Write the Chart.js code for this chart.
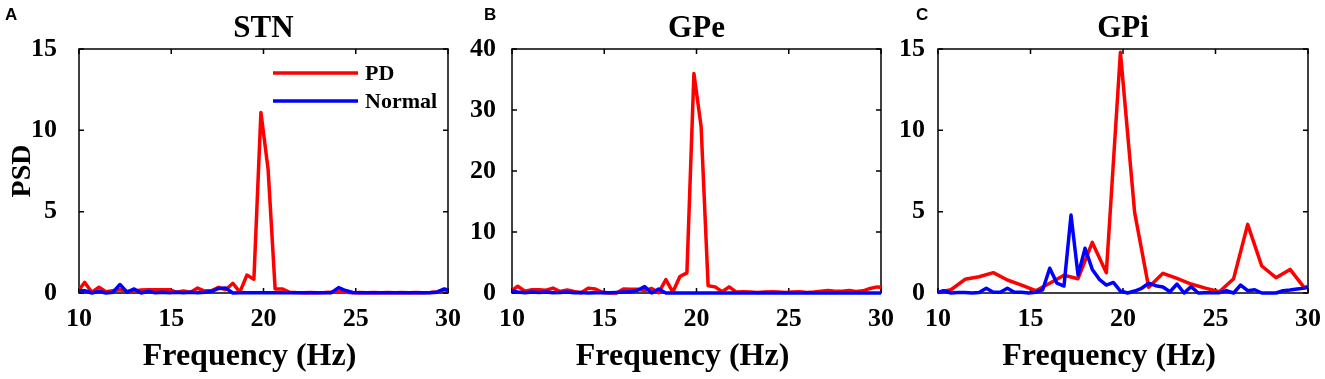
<!DOCTYPE html>
<html>
<head>
<meta charset="utf-8">
<script src="https://cdn.jsdelivr.net/npm/chart.js@4/dist/chart.umd.min.js"></script>
<style>
  html, body { margin: 0; padding: 0; background: #fff; }
  #wrap { position: relative; width: 1325px; height: 379px; }
  #wrap canvas { position: absolute; left: 0; top: 0; }
</style>
</head>
<body>
<div id="wrap">
  <canvas id="stn" width="1325" height="379"></canvas>
  <canvas id="gpe" width="1325" height="379"></canvas>
  <canvas id="gpi" width="1325" height="379"></canvas>
</div>
<script>
// frequency bins (Hz), ~0.38 Hz resolution
const freq = [9.93, 10.31, 10.70, 11.08, 11.46, 11.84, 12.22, 12.61, 12.99, 13.37,
  13.75, 14.13, 14.52, 14.90, 15.28, 15.66, 16.04, 16.43, 16.81, 17.19,
  17.57, 17.95, 18.34, 18.72, 19.10, 19.48, 19.86, 20.25, 20.63, 21.01,
  21.39, 21.77, 22.16, 22.54, 22.92, 23.30, 23.68, 24.07, 24.45, 24.83,
  25.21, 25.59, 25.98, 26.36, 26.74, 27.12, 27.50, 27.89, 28.27, 28.65,
  29.03, 29.41, 29.80, 30.18];
// GPi PD is sampled on every second bin
const freqCoarse = [9.93, 10.70, 11.46, 12.22, 12.99, 13.75, 14.52, 15.28, 16.04, 16.81,
  17.57, 18.34, 19.10, 19.86, 20.63, 21.39, 22.16, 22.92, 23.68, 24.45,
  25.21, 25.98, 26.74, 27.50, 28.27, 29.03, 29.80, 30.56];

const stnPD = [0.1, 0.65, 0.05, 0.35, 0.08, 0.14, 0.2, 0.1, 0.12, 0.18,
  0.2, 0.2, 0.2, 0.2, 0.05, 0.12, 0.05, 0.3, 0.12, 0.15,
  0.35, 0.2, 0.6, 0.05, 1.1, 0.85, 11.1, 7.6, 0.25, 0.25,
  0.05, 0.03, 0.02, 0.03, 0.02, 0.03, 0.05, 0.08, 0.05, 0.02,
  0.03, 0.02, 0.03, 0.02, 0.03, 0.02, 0.03, 0.02, 0.03, 0.02,
  0.03, 0.08, 0.2, 0.1];
const stnNormal = [0.14, 0.14, 0.0, 0.1, 0.0, 0.05, 0.52, 0.05, 0.25, 0.0,
  0.1, 0.02, 0.05, 0.02, 0.05, 0.02, 0.05, 0.02, 0.05, 0.1,
  0.28, 0.3, 0.0, 0.01, 0.02, 0.01, 0.02, 0.01, 0.02, 0.01,
  0.02, 0.01, 0.02, 0.01, 0.02, 0.01, 0.02, 0.33, 0.15, 0.03,
  0.02, 0.01, 0.02, 0.01, 0.02, 0.01, 0.02, 0.01, 0.02, 0.01,
  0.02, 0.05, 0.25, 0.1];

const gpePD = [0.3, 1.1, 0.3, 0.55, 0.55, 0.45, 0.8, 0.25, 0.5, 0.25,
  0.05, 0.8, 0.65, 0.1, 0.0, 0.0, 0.65, 0.6, 0.6, 0.4,
  0.75, 0.05, 2.2, 0.15, 2.7, 3.3, 36.0, 27.3, 1.2, 1.0,
  0.2, 1.0, 0.15, 0.2, 0.15, 0.1, 0.15, 0.2, 0.15, 0.1,
  0.15, 0.2, 0.1, 0.15, 0.3, 0.4, 0.3, 0.3, 0.4, 0.25,
  0.35, 0.75, 1.0, 0.9];
const gpeNormal = [0.4, 0.15, 0.05, 0.15, 0.1, 0.15, 0.05, 0.1, 0.15, 0.05,
  0.1, 0.0, 0.05, 0.1, 0.05, 0.1, 0.15, 0.2, 0.45, 1.05,
  0.0, 0.65, 0.0, 0.02, 0.02, 0.02, 0.02, 0.02, 0.02, 0.02,
  0.02, 0.02, 0.02, 0.02, 0.02, 0.02, 0.02, 0.02, 0.02, 0.02,
  0.02, 0.02, 0.02, 0.02, 0.02, 0.02, 0.02, 0.02, 0.02, 0.02,
  0.02, 0.02, 0.02, 0.02];

const gpiPD = [0.02, 0.2, 0.84, 1.0, 1.25, 0.8, 0.49, 0.14, 0.6, 1.09,
  0.88, 3.11, 1.25, 14.8, 4.94, 0.35, 1.21, 0.9, 0.55, 0.3,
  0.08, 0.88, 4.22, 1.66, 0.94, 1.45, 0.33, 0.7];
const gpiNormal = [0.02, 0.14, 0.0, 0.03, 0.03, 0.0, 0.03, 0.29, 0.05, 0.05,
  0.29, 0.05, 0.05, 0.0, 0.05, 0.2, 1.52, 0.6, 0.43, 4.79,
  1.1, 2.75, 1.45, 0.84, 0.49, 0.65, 0.12, 0.0, 0.12, 0.29,
  0.6, 0.45, 0.37, 0.08, 0.55, 0.0, 0.39, 0.0, 0.02, 0.02,
  0.02, 0.14, 0.0, 0.49, 0.14, 0.2, 0.0, 0.0, 0.0, 0.14,
  0.18, 0.25, 0.3, 0.38];

const xTicks = [10, 15, 20, 25, 30];
const seriesNames = ['PD', 'Normal'];
const seriesColors = ['#ff0000', '#0000ff'];
const xLabel = 'Frequency (Hz)';

const SERIF = '"Liberation Serif", "Times New Roman", serif';

function pts(xs, ys) {
  return xs.map((x, i) => ({ x: x, y: ys[i] }));
}

// box with inward ticks, panel letter, title, x label, in-axes legend
const framePlugin = {
  id: 'frame',
  beforeDatasetsDraw(chart, args, o) {
    const { ctx, chartArea: a, scales } = chart;
    ctx.save();
    ctx.strokeStyle = '#000';
    ctx.lineWidth = 1.5;
    ctx.strokeRect(a.left, a.top, a.width, a.height);
    ctx.beginPath();
    scales.x.ticks.forEach(t => {
      const px = scales.x.getPixelForValue(t.value);
      ctx.moveTo(px, a.bottom); ctx.lineTo(px, a.bottom - 5);
      ctx.moveTo(px, a.top); ctx.lineTo(px, a.top + 5);
    });
    scales.y.ticks.forEach(t => {
      const py = scales.y.getPixelForValue(t.value);
      ctx.moveTo(a.left, py); ctx.lineTo(a.left + 5, py);
      ctx.moveTo(a.right, py); ctx.lineTo(a.right - 5, py);
    });
    ctx.stroke();
    ctx.restore();
  },
  afterDraw(chart, args, o) {
    const { ctx, chartArea: a } = chart;
    const mid = (a.left + a.right) / 2;
    ctx.save();
    ctx.fillStyle = '#000';
    ctx.font = 'bold 17px "Liberation Sans", Arial, sans-serif';
    ctx.textAlign = 'left';
    ctx.textBaseline = 'alphabetic';
    ctx.fillText(o.letter, o.letterX, 20);
    ctx.font = 'bold 31px ' + SERIF;
    ctx.textAlign = 'center';
    ctx.fillText(o.title, mid, a.top - 12);
    ctx.font = 'bold 32px ' + SERIF;
    ctx.textBaseline = 'middle';
    ctx.fillText(xLabel, mid - 14, 357);
    if (o.legend) {
      ctx.font = 'bold 22px ' + SERIF;
      ctx.textAlign = 'left';
      chart.data.datasets.forEach((ds, i) => {
        const y = a.top + 24 + i * 28;
        ctx.strokeStyle = ds.borderColor;
        ctx.lineWidth = 3.5;
        ctx.beginPath();
        ctx.moveTo(a.right - 175, y);
        ctx.lineTo(a.right - 90, y);
        ctx.stroke();
        ctx.fillStyle = '#000';
        ctx.fillText(ds.label, a.right - 83, y + 1);
      });
    }
    ctx.restore();
  }
};

function makePanel(id, cfg) {
  const yWidth = cfg.yTitle ? cfg.left : 60;
  new Chart(document.getElementById(id), {
    type: 'line',
    data: {
      datasets: [
        { label: seriesNames[0], data: pts(cfg.pdX, cfg.pd), borderColor: seriesColors[0], order: 1 },
        { label: seriesNames[1], data: pts(freq, cfg.normal), borderColor: seriesColors[1], order: 0 }
      ]
    },
    options: {
      responsive: false,
      animation: false,
      devicePixelRatio: 1,
      layout: { padding: { left: cfg.left - yWidth, right: 1325 - cfg.right, top: 49, bottom: 0 } },
      elements: {
        line: { borderWidth: 3.5, tension: 0, borderJoinStyle: 'round', fill: false },
        point: { radius: 0, hoverRadius: 0 }
      },
      datasets: { line: { clip: { left: 0, right: 0, top: 0, bottom: 4 } } },
      plugins: {
        legend: { display: false },
        tooltip: { enabled: false },
        frame: { letter: cfg.letter, letterX: cfg.letterX, title: cfg.title, legend: cfg.legend }
      },
      scales: {
        x: {
          type: 'linear', min: 10, max: 30,
          afterBuildTicks: s => { s.ticks = xTicks.map(v => ({ value: v })); },
          afterFit: s => { s.height = 379 - 293; },
          grid: { display: false },
          border: { display: false },
          ticks: { color: '#000', padding: 3, maxRotation: 0, font: { family: SERIF, size: 26, weight: 'bold' } }
        },
        y: {
          min: 0, max: cfg.yMax,
          afterBuildTicks: s => { s.ticks = cfg.yTicks.map(v => ({ value: v })); },
          afterFit: s => { s.width = yWidth; },
          grid: { display: false },
          border: { display: false },
          ticks: { color: '#000', padding: cfg.tickPad, font: { family: SERIF, size: 26, weight: 'bold' } },
          title: { display: !!cfg.yTitle, text: cfg.yTitle || '', color: '#000', padding: { top: 6, bottom: 0 },
                   font: { family: SERIF, size: 28, weight: 'bold' } }
        }
      }
    },
    plugins: [framePlugin]
  });
}

makePanel('stn', { letter: 'A', letterX: 5, title: 'STN', left: 79, right: 448, yMax: 15, yTicks: [0, 5, 10, 15],
  tickPad: 14, yTitle: 'PSD', legend: true, pdX: freq, pd: stnPD, normal: stnNormal });
makePanel('gpe', { letter: 'B', letterX: 484, title: 'GPe', left: 512, right: 881, yMax: 40, yTicks: [0, 10, 20, 30, 40],
  tickPad: 8, legend: false, pdX: freq, pd: gpePD, normal: gpeNormal });
makePanel('gpi', { letter: 'C', letterX: 916, title: 'GPi', left: 938, right: 1308, yMax: 15, yTicks: [0, 5, 10, 15],
  tickPad: 5, legend: false, pdX: freqCoarse, pd: gpiPD, normal: gpiNormal });
</script>
</body>
</html>
